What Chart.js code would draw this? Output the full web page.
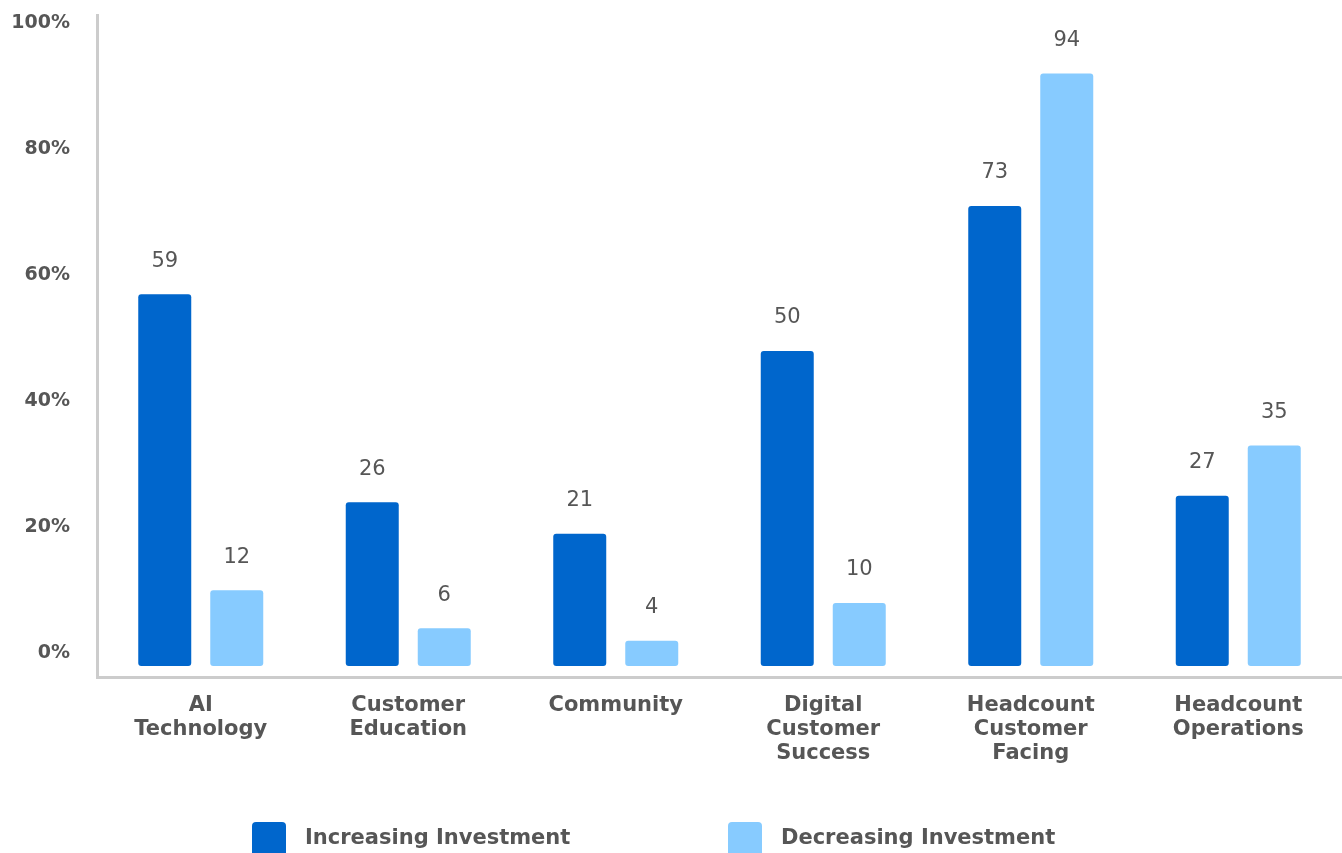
<!DOCTYPE html>
<html>
<head>
<meta charset="utf-8">
<script src="https://cdn.jsdelivr.net/npm/chart.js@4.4.1/dist/chart.umd.min.js"></script>
<style>
  html, body { margin: 0; padding: 0; background: #ffffff; overflow: hidden; }
  #wrap { width: 1342px; height: 853px; }
</style>
</head>
<body>
<div id="wrap"><canvas id="c" width="1342" height="853"></canvas></div>
<script>
const categories = [
  ["AI", "Technology"],
  ["Customer", "Education"],
  ["Community"],
  ["Digital", "Customer", "Success"],
  ["Headcount", "Customer", "Facing"],
  ["Headcount", "Operations"]
];
const increasingInvestment = [59, 26, 21, 50, 73, 27];
const decreasingInvestment = [12, 6, 4, 10, 94, 35];
const seriesNames = ["Increasing Investment", "Decreasing Investment"];
const yTickValues = [0, 20, 40, 60, 80, 100];

const FONT = "'DejaVu Sans', sans-serif";
const TEXT = "#565656";
const DARK = "#0066CC";
const LIGHT = "#87CBFF";

const valueLabels = {
  id: "valueLabels",
  afterDatasetsDraw(chart) {
    const ctx = chart.ctx;
    ctx.save();
    ctx.font = "21px " + FONT;
    ctx.fillStyle = TEXT;
    ctx.textAlign = "center";
    ctx.textBaseline = "middle";
    chart.data.datasets.forEach((ds, i) => {
      chart.getDatasetMeta(i).data.forEach((bar, j) => {
        ctx.fillText(String(ds.data[j]), bar.x, bar.y - 33);
      });
    });
    ctx.restore();
  }
};

const bottomLegend = {
  id: "bottomLegend",
  afterDraw(chart) {
    const ctx = chart.ctx;
    const starts = [252, 728];
    ctx.save();
    ctx.font = "bold 21px " + FONT;
    ctx.textBaseline = "middle";
    ctx.textAlign = "left";
    chart.data.datasets.forEach((ds, i) => {
      const x = starts[i];
      ctx.fillStyle = ds.backgroundColor;
      ctx.beginPath();
      ctx.roundRect(x, 822, 34, 40, 4);
      ctx.fill();
      ctx.fillStyle = TEXT;
      ctx.fillText(ds.label, x + 53, 839);
    });
    ctx.restore();
  }
};

new Chart(document.getElementById("c"), {
  type: "bar",
  data: {
    labels: categories,
    datasets: [
      {
        label: seriesNames[0],
        data: increasingInvestment,
        backgroundColor: DARK,
        borderRadius: 3,
        borderSkipped: false,
        categoryPercentage: 0.694,
        barPercentage: 0.736
      },
      {
        label: seriesNames[1],
        data: decreasingInvestment,
        backgroundColor: LIGHT,
        borderRadius: 3,
        borderSkipped: false,
        categoryPercentage: 0.694,
        barPercentage: 0.736
      }
    ]
  },
  options: {
    responsive: false,
    animation: false,
    layout: { padding: { top: 15, right: 0, bottom: 0, left: 0 } },
    plugins: {
      legend: { display: false },
      tooltip: { enabled: false }
    },
    scales: {
      x: {
        grid: { display: false, drawTicks: false },
        border: { display: true, color: "#cccccc", width: 3 },
        ticks: {
          color: TEXT,
          font: { family: FONT, size: 21, weight: "bold", lineHeight: 1.15 },
          padding: 16,
          maxRotation: 0,
          autoSkip: false
        },
        afterFit(scale) { scale.height = 176; scale.paddingLeft = 0; scale.paddingRight = 0; }
      },
      y: {
        min: -1.75,
        max: 103.3,
        grid: { display: false, drawTicks: false },
        border: { display: true, color: "#cccccc", width: 3 },
        afterBuildTicks(scale) {
          scale.ticks = yTickValues.map(v => ({ value: v }));
        },
        ticks: {
          color: TEXT,
          font: { family: FONT, size: 19, weight: "bold" },
          padding: 27,
          labelOffset: -13,
          callback: v => v + "%"
        },
        afterFit(scale) { scale.width = 97; scale.paddingTop = 0; scale.paddingBottom = 0; }
      }
    }
  },
  plugins: [valueLabels, bottomLegend]
});
</script>
</body>
</html>
